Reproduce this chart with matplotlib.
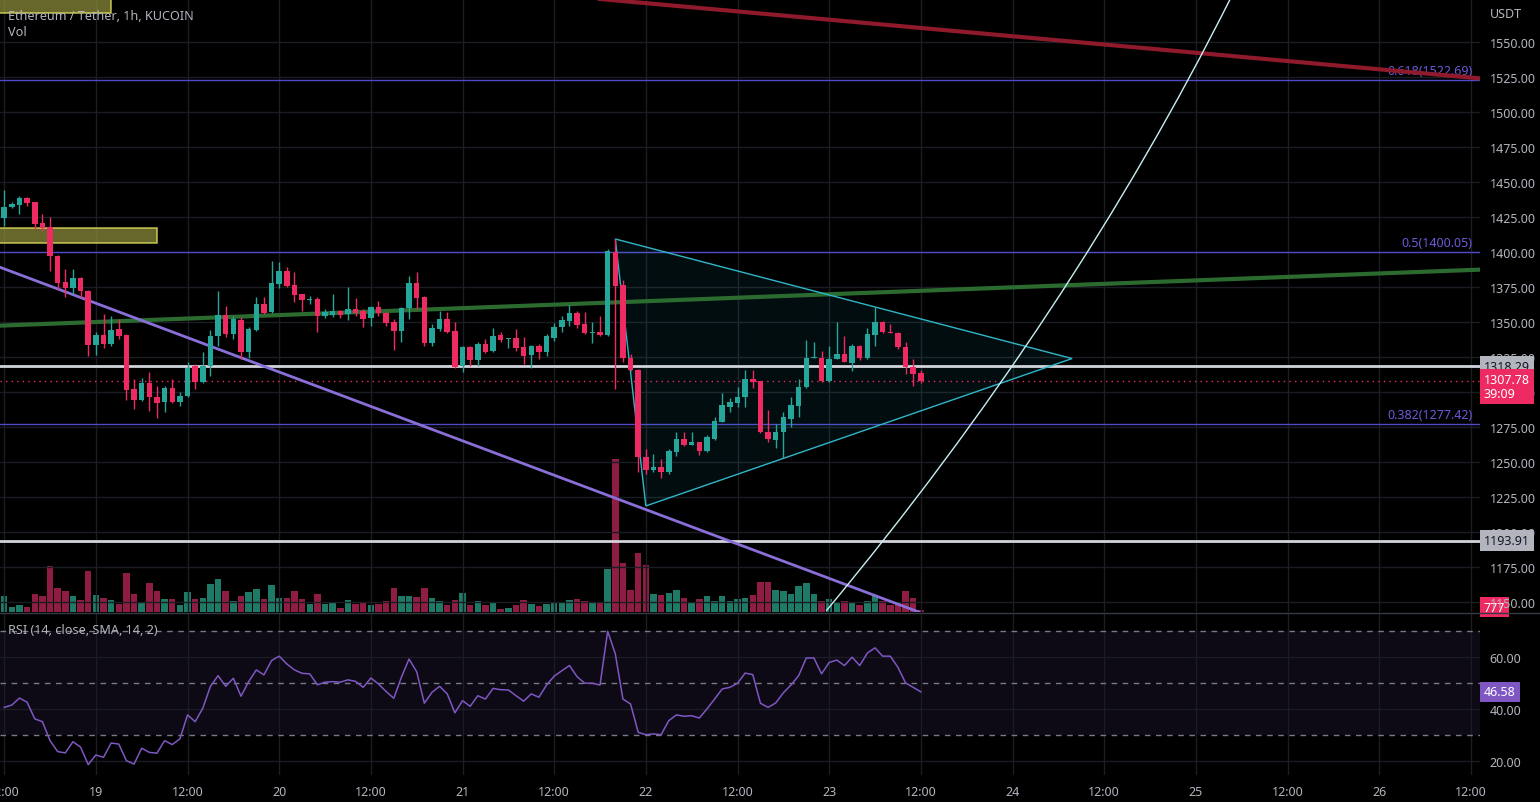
import numpy as np
import matplotlib.pyplot as plt
import matplotlib.transforms as mtransforms
from matplotlib.patches import Rectangle, Polygon, PathPatch
from matplotlib.path import Path
from matplotlib.lines import Line2D

plt.rcParams['font.family'] = ['Noto Sans', 'DejaVu Sans']

# ETH/USDT 1h KuCoin, bougies depuis le 18 a 12:00 (heure 0)
opens = [1424.3, 1432.1, 1433.6, 1438.6, 1435.7, 1420.7, 1417.9, 1397.1, 1378.6, 1374.3,
         1381.4, 1372.1, 1333.6, 1340.7, 1334.3, 1345.0, 1340.7, 1302.1, 1294.3, 1306.4,
         1296.4, 1292.9, 1302.9, 1292.9, 1297.1, 1318.6, 1307.1, 1318.6, 1340.0, 1355.0,
         1341.4, 1351.4, 1328.6, 1344.3, 1362.9, 1357.1, 1377.1, 1386.4, 1376.4, 1370.0,
         1365.7, 1366.4, 1354.3, 1355.0, 1357.9, 1355.7, 1359.3, 1357.9, 1352.9, 1360.7,
         1356.4, 1350.0, 1343.6, 1360.0, 1377.9, 1367.9, 1335.0, 1345.0, 1352.1, 1343.6,
         1318.6, 1332.1, 1322.9, 1334.3, 1329.3, 1340.7, 1337.9, 1338.6, 1332.1, 1326.4,
         1332.9, 1328.6, 1338.6, 1346.4, 1350.7, 1356.4, 1348.6, 1342.1, 1342.9, 1340.7,
         1400.0, 1376.4, 1324.3, 1315.7, 1253.6, 1244.3, 1246.4, 1242.9, 1257.1, 1266.4,
         1262.1, 1264.3, 1257.9, 1266.4, 1278.6, 1289.3, 1292.1, 1296.4, 1309.3, 1307.9,
         1271.4, 1265.7, 1271.4, 1280.7, 1290.0, 1303.6, 1324.3, 1324.3, 1307.9, 1323.6,
         1327.1, 1320.7, 1332.9, 1324.3, 1340.7, 1350.0, 1342.9, 1342.1, 1332.1, 1317.9,
         1313.6]
highs = [1444.3, 1435.7, 1440.0, 1439.3, 1435.7, 1427.1, 1425.0, 1397.9, 1387.9, 1387.9,
         1382.1, 1372.9, 1342.9, 1355.7, 1354.3, 1352.1, 1341.4, 1309.3, 1310.0, 1314.3,
         1304.3, 1304.3, 1309.3, 1300.0, 1321.4, 1320.0, 1328.6, 1344.3, 1372.1, 1361.4,
         1354.3, 1353.6, 1346.4, 1367.9, 1367.9, 1393.6, 1392.9, 1389.3, 1385.7, 1370.0,
         1368.6, 1367.9, 1359.3, 1370.0, 1358.6, 1375.0, 1367.1, 1359.3, 1361.4, 1365.0,
         1357.1, 1352.1, 1360.7, 1382.9, 1385.7, 1368.6, 1348.6, 1357.9, 1357.1, 1350.0,
         1332.9, 1332.9, 1335.7, 1337.9, 1345.7, 1342.9, 1338.6, 1345.0, 1339.3, 1333.6,
         1334.3, 1341.4, 1349.3, 1354.3, 1362.1, 1357.9, 1357.1, 1350.0, 1354.3, 1402.1,
         1409.3, 1380.0, 1327.1, 1316.4, 1259.3, 1255.7, 1252.1, 1259.3, 1271.4, 1271.4,
         1271.4, 1264.3, 1269.3, 1282.1, 1299.3, 1295.7, 1303.6, 1315.7, 1315.7, 1307.9,
         1287.1, 1277.1, 1285.7, 1296.4, 1309.3, 1337.1, 1335.7, 1329.3, 1332.9, 1350.0,
         1340.0, 1334.3, 1333.6, 1345.7, 1360.7, 1350.7, 1348.6, 1342.9, 1335.7, 1323.6,
         1315.7]
lows = [1418.6, 1431.4, 1427.1, 1432.9, 1416.4, 1415.0, 1386.4, 1373.6, 1367.9, 1370.0,
        1367.9, 1325.7, 1326.4, 1331.4, 1332.9, 1337.9, 1294.3, 1287.9, 1293.6, 1286.4,
        1281.4, 1285.7, 1292.0, 1290.0, 1296.4, 1302.1, 1306.5, 1311.4, 1332.9, 1339.3,
        1337.9, 1323.6, 1324.3, 1343.6, 1355.7, 1356.5, 1374.3, 1375.0, 1364.3, 1357.9,
        1362.9, 1342.9, 1352.9, 1353.6, 1352.9, 1351.4, 1354.3, 1346.4, 1347.1, 1354.3,
        1347.1, 1330.0, 1335.7, 1352.1, 1359.3, 1332.9, 1332.9, 1343.6, 1342.1, 1317.1,
        1314.3, 1318.6, 1318.6, 1328.0, 1328.6, 1335.7, 1331.4, 1329.3, 1320.0, 1317.1,
        1323.6, 1325.7, 1336.4, 1342.9, 1347.1, 1345.7, 1341.4, 1335.0, 1340.0, 1340.0,
        1302.1, 1321.4, 1315.0, 1242.9, 1241.4, 1242.9, 1238.6, 1241.4, 1254.3, 1261.4,
        1262.1, 1255.0, 1257.1, 1265.7, 1278.6, 1285.7, 1289.3, 1289.3, 1302.9, 1270.7,
        1264.3, 1260.0, 1252.9, 1275.0, 1282.1, 1302.9, 1324.3, 1307.1, 1307.1, 1323.6,
        1321.4, 1315.0, 1322.9, 1323.6, 1332.9, 1342.1, 1341.8, 1330.7, 1312.9, 1304.3,
        1306.4]
closes = [1432.1, 1434.3, 1438.6, 1435.0, 1420.0, 1417.1, 1397.1, 1377.9, 1374.3, 1381.4,
          1372.1, 1333.6, 1340.7, 1334.3, 1344.3, 1340.0, 1301.4, 1294.3, 1306.4, 1296.4,
          1292.1, 1302.9, 1292.9, 1297.1, 1317.1, 1307.1, 1318.6, 1340.0, 1355.0, 1341.4,
          1352.1, 1328.6, 1345.0, 1362.9, 1356.4, 1377.9, 1386.4, 1375.7, 1369.3, 1365.7,
          1366.4, 1354.3, 1357.1, 1357.9, 1355.0, 1359.3, 1356.4, 1352.1, 1360.7, 1356.4,
          1349.3, 1343.6, 1360.0, 1377.9, 1367.1, 1335.0, 1345.7, 1352.1, 1342.9, 1317.9,
          1332.1, 1322.9, 1334.3, 1328.6, 1340.0, 1337.1, 1338.6, 1331.4, 1325.7, 1332.9,
          1328.6, 1340.0, 1346.4, 1351.4, 1356.4, 1347.9, 1342.1, 1342.9, 1340.7, 1400.7,
          1375.7, 1324.3, 1315.7, 1253.6, 1244.3, 1246.4, 1242.9, 1257.9, 1266.4, 1262.1,
          1264.3, 1257.9, 1267.9, 1279.3, 1290.7, 1292.9, 1296.4, 1309.3, 1307.1, 1271.4,
          1266.4, 1271.4, 1282.1, 1290.7, 1303.6, 1324.3, 1325.0, 1307.9, 1323.6, 1327.1,
          1321.4, 1332.9, 1324.3, 1341.4, 1350.0, 1342.9, 1341.8, 1332.1, 1317.9, 1312.9,
          1307.78]
volumes = [6400, 2000, 2800, 2000, 7200, 6400, 18400, 9600, 8400, 6400,
           4800, 16400, 6800, 5600, 4800, 3200, 15600, 7200, 3600, 11600,
           8400, 5200, 5200, 2800, 8000, 5200, 5600, 11200, 13200, 8400,
           4400, 6400, 8000, 9200, 5200, 10800, 5600, 5600, 8400, 5200,
           3200, 7200, 3200, 3600, 1600, 4800, 3200, 3600, 2800, 3200,
           4400, 9600, 6400, 6400, 6000, 9600, 5600, 4400, 2800, 4800,
           7600, 2800, 4400, 2800, 3600, 1200, 1600, 2800, 4800, 3200,
           2400, 3200, 3600, 3600, 4800, 5200, 4400, 3600, 3600, 17200,
           61200, 19600, 8800, 23600, 18800, 7200, 6800, 7600, 8800, 5600,
           3600, 5200, 6400, 4400, 6400, 4400, 5200, 5600, 6800, 12000,
           12000, 8800, 8400, 7200, 10400, 11600, 7200, 4400, 5200, 4000,
           4400, 4000, 2800, 4400, 6400, 4400, 2800, 3600, 8400, 5600,
           777]
rsi = [40.6, 41.5, 44.2, 42.6, 36.2, 35.1, 27.8, 23.6, 23.1, 27.4,
       25.3, 18.6, 22.3, 21.4, 26.9, 26.5, 20.1, 18.8, 24.9, 23.3,
       23.0, 27.8, 26.3, 28.5, 37.7, 35.1, 40.3, 48.7, 52.8, 48.7,
       51.8, 44.9, 50.5, 55.0, 53.1, 58.6, 60.3, 57.3, 55.0, 53.7,
       53.5, 49.3, 50.3, 50.5, 50.3, 51.2, 50.6, 48.3, 51.9, 49.6,
       46.7, 44.1, 52.2, 59.2, 54.3, 42.2, 46.4, 48.7, 45.8, 38.5,
       43.2, 41.0, 45.1, 43.8, 47.9, 47.4, 47.3, 45.1, 43.0, 45.8,
       44.5, 49.2, 52.6, 54.7, 56.7, 52.4, 49.9, 49.9, 49.2, 69.9,
       61.2, 43.8, 41.9, 31.0, 30.1, 30.4, 30.1, 35.5, 37.7, 37.2,
       37.4, 36.5, 40.0, 43.8, 47.7, 48.3, 49.9, 53.8, 53.2, 42.2,
       40.6, 42.3, 46.2, 49.2, 52.8, 59.6, 59.6, 53.5, 57.9, 58.8,
       56.7, 59.9, 56.7, 61.5, 63.5, 60.3, 60.3, 56.0, 50.0, 48.3,
       46.58]

time_ticks = list(range(0, 193, 12))
time_labels = ['12:00', '19', '12:00', '20', '12:00', '21', '12:00', '22', '12:00',
               '23', '12:00', '24', '12:00', '25', '12:00', '26', '12:00']

fib_ratios = ['0.382', '0.5', '0.618']
fib_prices = [1277.42, 1400.05, 1522.69]
hlines = [1318.29, 1193.91]
last_price = 1307.78
countdown = '39:09'

# dessins (heure, prix)
red_trend = [(78.0, 1580.7), (193.2, 1524.0)]
green_trend = [(-0.55, 1347.4), (193.2, 1387.4)]
purple_trend = [(-0.55, 1389.1), (120.1, 1142.1)]
triangle = [(80.0, 1409.3), (84.0, 1218.6), (139.8, 1323.9)]
curve = [(107.6, 1143.6), (139.6, 1353.6), (160.5, 1580.7)]
zones = [(-1.0, 14.0, 1570.7, 1600.0), (-1.0, 20.0, 1406.4, 1417.1)]

W, H = 1540, 803
fig = plt.figure(figsize=(W / 100, H / 100), dpi=100, facecolor='#000000')

def px_rect(left, top, right, bottom):
    return [left / W, 1 - bottom / H, (right - left) / W, (bottom - top) / H]

ax = fig.add_axes(px_rect(0, 0, 1480, 613))
ax_vol = ax.twinx()
ax_rsi = fig.add_axes(px_rect(0, 614, 1480, 776))
ax.set_zorder(2)
ax_vol.set_zorder(1)
ax.set_facecolor('none')
ax_vol.set_facecolor('#000000')
ax_rsi.set_facecolor('#000000')

xlim = (-0.55, 193.2)
grid_c = '#1b1d24'
txt_c = '#b2b5be'
up_c, dn_c = '#26a69a', '#ee2a63'

x = np.arange(len(opens))
o = np.array(opens)
c = np.array(closes)
up = c >= o
cols = np.where(up, up_c, dn_c)

# volume
ax_vol.bar(x, volumes, width=0.85, color=np.where(up, '#1e7a67', '#8f1c43'), linewidth=0)
ax_vol.set_ylim(0, max(volumes) * 613 / 153)
ax_vol.set_yticks([])
for s in ax_vol.spines.values():
    s.set_visible(False)

# bougies
ax.vlines(x, lows, highs, colors=cols, lw=1, zorder=5)
ax.bar(x, np.maximum(np.abs(c - o), 0.6), bottom=np.minimum(o, c), width=0.72,
       color=cols, linewidth=0, zorder=6)

# zones jaunes
for x0, x1, y0, y1 in zones:
    ax.add_patch(Rectangle((x0, y0), x1 - x0, y1 - y0, fc='#8c8a3a', alpha=0.75,
                           ec='#e6e35e', lw=1.2, zorder=3))

# fibo
for r, p in zip(fib_ratios, fib_prices):
    ax.axhline(p, color='#4f49c6', lw=1, zorder=2)
    ax.text(192.2, p + 2.0, f'{r}({p:.2f})', color='#6c5ad8', fontsize=9,
            ha='right', va='bottom', zorder=3)

for p in hlines:
    ax.axhline(p, color='#d1d4dc', lw=2, zorder=4)
ax.axhline(last_price, color=dn_c, lw=1, ls=(0, (1, 3)), zorder=4)

# lignes de tendance
ax.axline(*red_trend, color='#8e1a2b', lw=3, zorder=4)
ax.axline(*green_trend, color='#2c6b2f', lw=3, zorder=4)
ax.axline(*purple_trend, color='#8a6fd8', lw=2, zorder=4)

ax.add_patch(Polygon(triangle, closed=True, fc='#26c6da', alpha=0.07, ec='none', zorder=2))
ax.add_patch(Polygon(triangle, closed=True, fc='none', ec='#2fb6c8', lw=1, zorder=4))
ax.add_patch(PathPatch(Path(curve, [Path.MOVETO, Path.CURVE3, Path.CURVE3]),
                       fc='none', ec='#c8eef2', lw=1, zorder=4))

ax.set_xlim(*xlim)
ax.set_ylim(1142.86, 1580.71)
ax.set_yticks(np.arange(1150, 1551, 25))
ax.set_yticklabels([f'{v:.2f}' for v in np.arange(1150, 1551, 25)])
ax.yaxis.tick_right()
ax.set_xticks(time_ticks)
ax.tick_params(axis='x', length=0, labelbottom=False)
ax.tick_params(axis='y', length=0, pad=7, labelsize=9, labelcolor=txt_c)
ax.grid(True, color=grid_c, lw=1)
for s in ax.spines.values():
    s.set_visible(False)

# RSI
ax_rsi.axhspan(30, 70, color='#7e57c2', alpha=0.11, lw=0)
for lvl in (70, 50, 30):
    ax_rsi.axhline(lvl, color='#787b86', lw=1, ls=(0, (4, 4)))
ax_rsi.plot(x, rsi, color='#7e57c2', lw=1.1)
ax_rsi.set_xlim(*xlim)
ax_rsi.set_ylim(14.6, 76.9)
ax_rsi.set_yticks([20, 40, 60])
ax_rsi.set_yticklabels(['20.00', '40.00', '60.00'])
ax_rsi.yaxis.tick_right()
ax_rsi.set_xticks(time_ticks)
ax_rsi.set_xticklabels(time_labels)
ax_rsi.tick_params(axis='x', length=0, pad=7, labelsize=9, labelcolor=txt_c)
ax_rsi.tick_params(axis='y', length=0, pad=7, labelsize=9, labelcolor=txt_c)
ax_rsi.grid(True, color=grid_c, lw=1)
for s in ax_rsi.spines.values():
    s.set_visible(False)

# etiquettes sur l'axe des prix
def axis_tag(a, y, txt, bg, fg, dy=0, va='center'):
    tr = mtransforms.offset_copy(a.get_yaxis_transform(), fig=fig, x=4, y=dy, units='dots')
    a.text(1.0, y, txt, transform=tr, ha='left', va=va, fontsize=9, color=fg,
           bbox=dict(boxstyle='square,pad=0.3', fc=bg, ec='none'),
           clip_on=False, zorder=20, linespacing=1.1)

for p in hlines:
    axis_tag(ax, p, f'{p:.2f}', '#b2b5be', '#131722')
axis_tag(ax, last_price, f'{last_price:.2f}\n{countdown}', dn_c, '#ffffff', dy=8, va='top')
axis_tag(ax_vol, volumes[-1], f'{volumes[-1]}', dn_c, '#ffffff', dy=3)
axis_tag(ax_rsi, rsi[-1], f'{rsi[-1]:.2f}', '#7e57c2', '#ffffff')

fig.add_artist(Line2D([0, 1], [1 - 613.5 / H] * 2, transform=fig.transFigure,
                      color='#363a45', lw=1))

fig.text(8 / W, 1 - 16 / H, 'Ethereum / Tether, 1h, KUCOIN', color=txt_c, fontsize=9.1, va='center')
fig.text(8 / W, 1 - 33 / H, 'Vol', color=txt_c, fontsize=9.1, va='center')
fig.text(8 / W, 1 - 631 / H, 'RSI (14, close, SMA, 14, 2)', color=txt_c, fontsize=9.1, va='center')
fig.text(1490 / W, 1 - 14 / H, 'USDT', color=txt_c, fontsize=9, va='center')

fig.savefig('out.png', dpi=100, facecolor=fig.get_facecolor())
